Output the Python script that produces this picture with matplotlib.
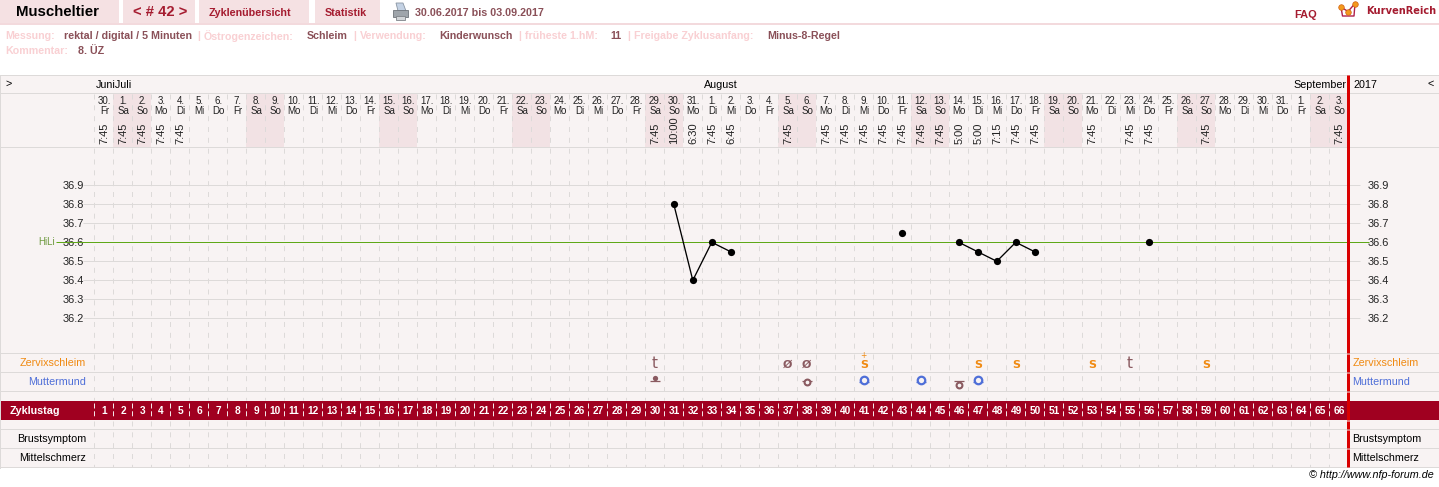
import matplotlib
matplotlib.use('Agg')
from matplotlib import pyplot as plt
from matplotlib.patches import Rectangle, Polygon

plt.rcParams['font.family'] = ['Liberation Sans', 'DejaVu Sans']
plt.rcParams['lines.scale_dashes'] = False

DATES = ['30.', '1.', '2.', '3.', '4.', '5.', '6.', '7.', '8.', '9.', '10.', '11.', '12.', '13.', '14.', '15.', '16.',
         '17.', '18.', '19.', '20.', '21.', '22.', '23.', '24.', '25.', '26.', '27.', '28.', '29.', '30.', '31.',
         '1.', '2.', '3.', '4.', '5.', '6.', '7.', '8.', '9.', '10.', '11.', '12.', '13.', '14.', '15.', '16.',
         '17.', '18.', '19.', '20.', '21.', '22.', '23.', '24.', '25.', '26.', '27.', '28.', '29.', '30.', '31.',
         '1.', '2.', '3.']
WEEKDAYS = ['Fr', 'Sa', 'So', 'Mo', 'Di', 'Mi', 'Do'] * 9 + ['Fr', 'Sa', 'So']
TIMES = {1: '7:45', 2: '7:45', 3: '7:45', 4: '7:45', 5: '7:45', 30: '7:45', 31: '10:00', 32: '6:30', 33: '7:45',
         34: '6:45', 37: '7:45', 39: '7:45', 40: '7:45', 41: '7:45', 42: '7:45', 43: '7:45', 44: '7:45', 45: '7:45',
         46: '5:00', 47: '5:00', 48: '7:15', 49: '7:45', 50: '7:45', 53: '7:45', 55: '7:45', 56: '7:45', 59: '7:45',
         66: '7:45'}

# connected runs of temperature readings
TEMP_RUNS = [
    ([31, 32, 33, 34], [36.8, 36.4, 36.6, 36.55]),
    ([43], [36.65]),
    ([46, 47, 48, 49, 50], [36.6, 36.55, 36.5, 36.6, 36.55]),
    ([56], [36.6]),
]
TEMP_TICKS = [36.2, 36.3, 36.4, 36.5, 36.6, 36.7, 36.8, 36.9]
HILI = 36.6

SCHLEIM_T = [30, 55]
SCHLEIM_0 = [37, 38]
SCHLEIM_S = [41, 47, 49, 53, 59]
SCHLEIM_PLUS = [41]
MM_OPEN = [41, 44, 47]
MM_MID = [38]
MM_LOW = [46]
MM_CLOSED = [30]

BG = '#f8f3f3'
WEEKEND = '#f2e2e4'
GRID = '#dddad9'
MAROON = '#a00020'
RED = '#a51c30'
TAB = '#f5e1e3'
PINK = '#f9d0d3'
DARK = '#8a5058'
BROWN = '#8a5a60'
ORANGE = '#f08a12'
BLUE = '#4f6fd8'
WHITE_DASH = '#f3e4e6'
LEFT_PX = 94.3

fig = plt.figure(figsize=(14.39, 4.87), dpi=100)

# page furniture in pixel coordinates
ax = fig.add_axes([0, 0, 1, 1])
ax.set_xlim(0, 1439)
ax.set_ylim(487, 0)
ax.axis('off')


def txt(x, y, s, size=10.7, color='black', weight='normal', ha='left', **kw):
    ax.text(x, y, s, fontsize=size * 0.72, color=color, weight=weight, ha=ha, va='center', **kw)


def hline(y, x0=0, x1=1439, color=GRID):
    ax.plot([x0, x1], [y, y], color=color, lw=0.72, solid_capstyle='butt')


for x0, x1 in [(0, 119), (123, 195), (199, 309), (315, 380)]:
    ax.add_patch(Rectangle((x0, 0), x1 - x0, 23, fc=TAB, ec='none'))
ax.add_patch(Rectangle((0, 23), 1439, 2, fc='#f3dadd', ec='none'))

txt(16, 12.5, 'Muscheltier', 15, 'black', 'bold')
txt(133, 12.5, '< # 42 >', 14.7, RED, 'bold')
txt(209, 12.5, 'Zyklenübersicht', 10.7, RED, 'bold')
txt(325, 12.5, 'Statistik', 10.7, RED, 'bold')
txt(415, 12.5, '30.06.2017 bis 03.09.2017', 10.7, DARK, 'bold')
txt(1294, 14.5, 'FAQ', 11, RED, 'bold')
ax.text(1366, 10.5, 'KurvenReich', fontsize=7.1, color=RED, weight='bold', family='DejaVu Sans', va='center')

# printer icon
ax.add_patch(Polygon([(396, 3), (403, 3), (406, 11), (398, 11)], fc='#c4d2e4', ec='#8a95a2', lw=0.6))
ax.add_patch(Rectangle((392.5, 10), 15.5, 7, fc='#9fa5ab', ec='#70757b', lw=0.6))
ax.add_patch(Rectangle((396, 16), 9, 4, fc='#d2d5d8', ec='#7f8388', lw=0.6))

# logo
ax.plot([1341, 1342.5, 1354, 1355], [7, 16, 16, 3.5], color='#b0204a', lw=1)
ax.plot([1341, 1348, 1355], [7, 11.5, 3.5], color='#b0204a', lw=1)
ax.plot([1341, 1348, 1355], [7, 11.5, 3.5], 'o', ms=4, mfc='#f39a1d', mec='#d06010', mew=0.5, ls='none')

info = [(5, 'Messung:', PINK), (64, 'rektal / digital / 5 Minuten', DARK), (197, '|', PINK),
        (204, 'Östrogenzeichen:', PINK), (307, 'Schleim', DARK), (353, '|', PINK),
        (360, 'Verwendung:', PINK), (439, 'Kinderwunsch', DARK), (518, '|', PINK),
        (525, 'früheste 1.hM:', PINK), (610, '11', DARK), (627, '|', PINK),
        (634, 'Freigabe Zyklusanfang:', PINK), (767, 'Minus-8-Regel', DARK)]
for x, s, c in info:
    txt(x, 36, s, 10.6, c, 'bold')
txt(5, 51, 'Kommentar:', 10.6, PINK, 'bold')
txt(78, 51, '8. ÜZ', 10.6, DARK, 'bold')

# table background and row rules
ax.add_patch(Rectangle((0, 75), 1439, 392.5, fc=BG, ec='none'))
for y in [75.25, 93.25, 147.25, 353.25, 372.25, 391.25, 429.25, 448.25, 467.25]:
    hline(y)
ax.plot([0.25, 0.25], [75, 467.5], color=GRID, lw=0.72)
ax.add_patch(Rectangle((1, 401), 1438, 19, fc=MAROON, ec='none'))

txt(5, 84, '>')
txt(96, 84.5, 'JuniJuli')
txt(704, 84.5, 'August')
txt(1293, 84.5, 'September')
txt(1353, 84.5, '2017')
txt(1427, 84, '<')

for x, ha in [(86, 'right'), (1352.5, 'left')]:
    txt(x, 363, 'Zervixschleim', color=ORANGE, ha=ha)
    txt(x, 382, 'Muttermund', color=BLUE, ha=ha)
    txt(x, 439.5, 'Brustsymptom', ha=ha)
    txt(x, 458, 'Mittelschmerz', ha=ha)
txt(10, 411, 'Zyklustag', 10.7, 'white', 'bold')
txt(1434, 475, '© http://www.nfp-forum.de', ha='right', style='italic')

# one column per cycle day, vertical scale still in pixels
ax_days = fig.add_axes([LEFT_PX / 1439, 0, 1254 / 1439, 1])
ax_days.set_xlim(0.5, 66.5)
ax_days.set_ylim(487, 0)
ax_days.axis('off')
ax_days.patch.set_alpha(0)

days = list(range(1, 67))
weekend_days = [d for d, w in zip(days, WEEKDAYS) if w in ('Sa', 'So')]
ax_days.bar(weekend_days, 53, bottom=94, width=1, color=WEEKEND, linewidth=0)

edges = [d - 0.5 for d in days]
dash = (0, (3.6, 4.2))
ax_days.vlines(edges, 94, 400, color=GRID, lw=0.72, linestyles=[dash], capstyle='butt')
ax_days.vlines(edges, 403, 418, color=WHITE_DASH, lw=0.72, linestyles=[(0, (3.6, 2.0))], capstyle='butt')
ax_days.vlines(edges, 421, 467, color=GRID, lw=0.72, linestyles=[dash], capstyle='butt')

for d, date, wd in zip(days, DATES, WEEKDAYS):
    ax_days.text(d + 0.03, 101, date, fontsize=7, ha='center', va='center', color='#222222')
    ax_days.text(d + 0.03, 111, wd, fontsize=7, ha='center', va='center', color='#222222')
    ax_days.text(d + 0.02, 411, str(d), fontsize=7.3, ha='center', va='center', color='white', weight='bold')
for d, t in TIMES.items():
    ax_days.text(d + 0.02, 144.5, t, fontsize=8, rotation=90, ha='center', va='bottom', color='#222222')

# Zervixschleim symbols
for d in SCHLEIM_T:
    ax_days.text(d, 364, 't', fontsize=11, color=BROWN, ha='center', va='center', family='DejaVu Sans')
for d in SCHLEIM_0:
    ax_days.text(d, 364.5, 'Ø', fontsize=8, color=BROWN, ha='center', va='center', family='DejaVu Sans', weight='bold')
for d in SCHLEIM_S:
    ax_days.text(d, 365, 'S', fontsize=8, color=ORANGE, ha='center', va='center', family='DejaVu Sans', weight='bold')
for d in SCHLEIM_PLUS:
    ax_days.text(d, 356, '+', fontsize=5.5, color=ORANGE, ha='center', va='center', family='DejaVu Sans')

# Muttermund symbols
half = 5 / 19
for d in MM_OPEN:
    ax_days.plot([d - half, d + half], [382.25, 382.25], color=BLUE, lw=0.9, solid_capstyle='butt')
    ax_days.plot([d], [379.5], 'o', ms=5.4, mfc=BG, mec=BLUE, mew=1.6)
for d in MM_MID:
    ax_days.plot([d - half, d + half], [381.25, 381.25], color=BROWN, lw=0.9, solid_capstyle='butt')
    ax_days.plot([d], [381.5], 'o', ms=4.2, mfc=BG, mec=BROWN, mew=1.5)
for d in MM_LOW:
    ax_days.plot([d - half, d + half], [381.25, 381.25], color=BROWN, lw=0.9, solid_capstyle='butt')
    ax_days.plot([d], [384.8], 'o', ms=4.2, mfc=BG, mec=BROWN, mew=1.5)
for d in MM_CLOSED:
    ax_days.plot([d - half, d + half], [381.25, 381.25], color=BROWN, lw=0.9, solid_capstyle='butt')
    ax_days.plot([d], [378], 'o', ms=3.8, color=BROWN, mew=0)

# temperature curve: 0.1 degrees = 19 px, 36.6 sits at y = 242.3 px
top_px, bottom_px = 147.5, 353.5
t_rect = [LEFT_PX / 1439, (487 - bottom_px) / 487, 1254 / 1439, (bottom_px - top_px) / 487]
t_lim = (HILI - (bottom_px - 242.3) / 190, HILI + (242.3 - top_px) / 190)
ax_t = fig.add_axes(t_rect)
ax_t.patch.set_alpha(0)
ax_t.set_xlim(0.5, 66.5)
ax_t.set_ylim(*t_lim)
ax_t.set_xticks([])
ax_t.set_yticks(TEMP_TICKS)
ax_t.set_yticklabels([f'{t:.1f}' for t in TEMP_TICKS])
ax_t.tick_params(axis='y', length=0, labelsize=7.9, labelcolor='#222222', pad=7.5)

# second scale on the right hand side of the table
ax_r = ax_t.twinx()
ax_r.set_ylim(*t_lim)
ax_r.set_yticks(TEMP_TICKS)
ax_r.set_yticklabels([f'{t:.1f}' for t in TEMP_TICKS])
ax_r.tick_params(axis='y', length=0, labelsize=7.9, labelcolor='#222222', pad=14)
for a in (ax_t, ax_r):
    for s in a.spines.values():
        s.set_visible(False)

ax_t.hlines(TEMP_TICKS, -0.1, 67.1, color=GRID, lw=0.72, clip_on=False, zorder=1)
ax_t.hlines([HILI], -1.5, 67.6, color='#5fa818', lw=0.72, clip_on=False, zorder=2)
ax_t.text(-1.55, HILI, 'HiLi', fontsize=7, color='#6f9a40', ha='right', va='center')
for run_days, run_temps in TEMP_RUNS:
    ax_t.plot(run_days, run_temps, '-o', color='black', lw=0.95, ms=5.2, mew=0, zorder=5)

# red end-of-cycle rule, broken by the row rules
for y0, y1 in [(75, 353), (354, 372), (373, 391), (392, 420), (421, 429), (430, 448), (449, 467)]:
    ax_t.plot([66.5, 66.5], [y0, y1], color='#d90000', lw=2.16, solid_capstyle='butt', clip_on=False,
              transform=ax_days.transData, zorder=10)

plt.savefig('out.png', dpi=100)
plt.close()
